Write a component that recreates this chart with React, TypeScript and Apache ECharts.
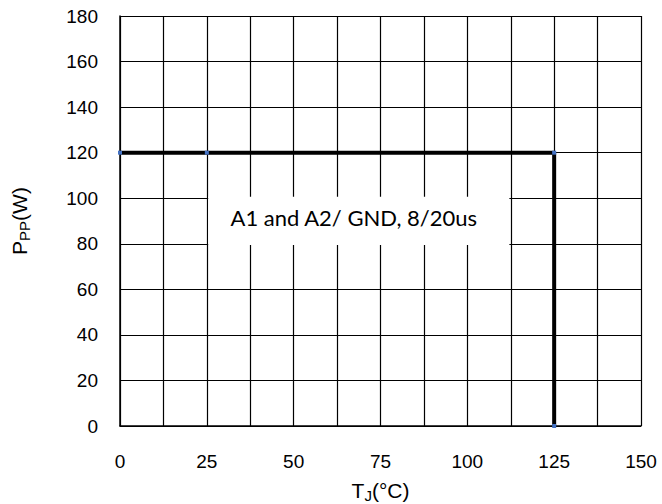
import React, { useEffect, useRef } from "react";
import * as echarts from "echarts";

const tempC = [0, 25, 125, 125];
const powerW = [120, 120, 120, 0];
const xTicks = [0, 25, 50, 75, 100, 125, 150];
const yTicks = [0, 20, 40, 60, 80, 100, 120, 140, 160, 180];
const noteText = "A1 and A2/ GND, 8/20us";
const noteBox = { x0: 25.4, x1: 112.1, y0: 79.5, y1: 100.6 };

export default function App() {
  const ref = useRef<HTMLDivElement>(null);
  useEffect(() => {
    document.body.style.margin = "0";
    const chart = echarts.init(ref.current!, null, { renderer: "svg" });
    const nameRich = {
      a: { fontFamily: "Liberation Sans", fontSize: 21, color: "#000" },
      s: { fontFamily: "Liberation Sans", fontSize: 15, color: "#000", padding: [10, 0, 0, 0] },
    };
    chart.setOption({
      animation: false,
      backgroundColor: "#fff",
      grid: { left: 120, right: 21, top: 16, bottom: 78, outerBoundsMode: "none", containLabel: false },
      xAxis: {
        type: "value",
        min: xTicks[0],
        max: xTicks[xTicks.length - 1],
        interval: 12.5,
        name: "{a|T}{s|J}{a|(°C)}",
        nameLocation: "middle",
        nameGap: 52,
        nameTextStyle: { rich: nameRich },
        axisLine: { show: true, lineStyle: { color: "#000", width: 1.5 } },
        axisTick: { show: false },
        axisLabel: {
          margin: 26,
          fontFamily: "Liberation Sans",
          fontSize: 19,
          color: "#000",
          formatter: (v: number) => (xTicks.includes(v) ? String(v) : ""),
        },
        splitLine: { show: true, lineStyle: { color: "#000", width: 1.2 } },
      },
      yAxis: {
        type: "value",
        min: yTicks[0],
        max: yTicks[yTicks.length - 1],
        interval: 20,
        name: "{a|P}{s|PP}{a|(W)}",
        nameLocation: "middle",
        nameGap: 88,
        nameRotate: 90,
        nameTextStyle: { rich: nameRich },
        axisLine: { show: true, lineStyle: { color: "#000", width: 1.5 } },
        axisTick: { show: false },
        axisLabel: {
          margin: 22,
          fontFamily: "Liberation Sans",
          fontSize: 19,
          color: "#000",
        },
        splitLine: { show: true, lineStyle: { color: "#000", width: 1.2 } },
      },
      series: [
        {
          type: "line",
          data: tempC.map((t, i) => [t, powerW[i]]),
          lineStyle: { color: "#000", width: 4 },
          symbol: "rect",
          symbolSize: 4,
          itemStyle: { color: "#4472C4" },
          z: 5,
          markArea: {
            silent: true,
            itemStyle: { color: "#fff", borderWidth: 0 },
            label: {
              show: true,
              position: "inside",
              formatter: noteText,
              fontFamily: "Lato",
              fontSize: 22,
              color: "#000",
              offset: [-5, -3],
            },
            data: [[{ coord: [noteBox.x0, noteBox.y1] }, { coord: [noteBox.x1, noteBox.y0] }]],
          },
        },
      ],
    });
    return () => chart.dispose();
  }, []);
  return <div ref={ref} style={{ width: 662, height: 504 }} />;
}
